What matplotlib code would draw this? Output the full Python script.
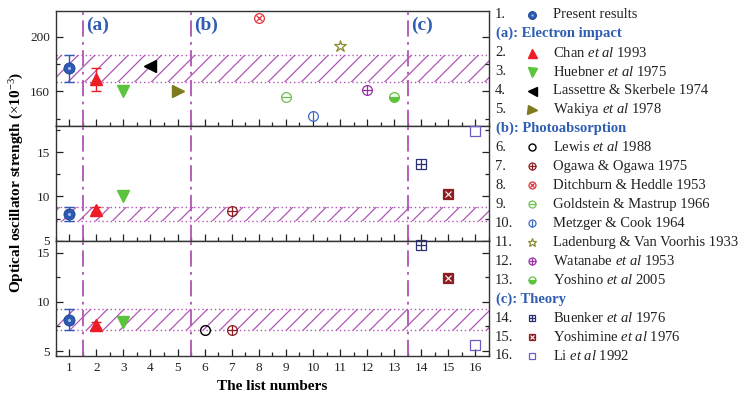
import numpy as np
import matplotlib
matplotlib.use("Agg")
import matplotlib.pyplot as plt
from matplotlib.ticker import MultipleLocator
from matplotlib.lines import Line2D

plt.rcParams["font.family"] = ["Liberation Serif", "DejaVu Serif"]
plt.rcParams["mathtext.fontset"] = "custom"
plt.rcParams["mathtext.rm"] = "Liberation Serif"
plt.rcParams["mathtext.it"] = "Liberation Serif:italic"
plt.rcParams["mathtext.bf"] = "Liberation Serif:bold"
plt.rcParams["hatch.linewidth"] = 0.9

nan = np.nan
list_numbers = np.arange(1, 17)

# oscillator strengths (x10^-3) for the three transitions, one panel each
top_vals = [177, 169, 160, 178.5, 160, nan, nan, 214, 156, 142, 193, 161, 156, nan, nan, nan]
top_errs = [10, 8.5, 0, 0, 0, 0, 0, 0, 0, 0, 0, 0, 0, 0, 0, 0]
mid_vals = [8.0, 8.5, 10.1, nan, nan, nan, 8.3, nan, nan, nan, nan, nan, nan, 13.6, 10.3, 17.4]
mid_errs = [0.8, 0.3, 0, 0, 0, 0, 0, 0, 0, 0, 0, 0, 0, 0, 0, 0]
bot_vals = [8.2, 7.6, 7.9, nan, nan, 7.1, 7.1, nan, nan, nan, nan, nan, nan, 15.8, 12.4, 5.6]
bot_errs = [1.1, 0.3, 0, 0, 0, 0, 0, 0, 0, 0, 0, 0, 0, 0, 0, 0]

panel_ylims = [(135, 219), (5, 18), (4.5, 16.2)]
panel_major = [40, 5, 5]
panel_minor = [20, 2.5, 2.5]

group_bounds = [1.5, 5.5, 13.5]
group_tags = ["(a)", "(b)", "(c)"]

sources = [
    "Present results",
    r"Chan $\it{et\ al}$ 1993",
    r"Huebner $\it{et\ al}$ 1975",
    "Lassettre & Skerbele 1974",
    r"Wakiya $\it{et\ al}$ 1978",
    r"Lewis $\it{et\ al}$ 1988",
    "Ogawa & Ogawa 1975",
    "Ditchburn & Heddle 1953",
    "Goldstein & Mastrup 1966",
    "Metzger & Cook 1964",
    "Ladenburg & Van Voorhis 1933",
    r"Watanabe $\it{et\ al}$ 1953",
    r"Yoshino $\it{et\ al}$ 2005",
    r"Buenker $\it{et\ al}$ 1976",
    r"Yoshimine $\it{et\ al}$ 1976",
    r"Li $\it{et\ al}$ 1992",
]
sections = {2: "(a): Electron impact", 6: "(b): Photoabsorption", 14: "(c): Theory"}

BLUE = "#2C5AB4"
RED = "#EE1C25"
GREEN = "#5CC43C"
OLIVE = "#7E7A1E"
DRED = "#8E1D22"
PURPLE = "#B055B5"
HEAD = "#2F5DB3"

# marker recipe per source: list of layers drawn on top of each other
def layers(n):
    return {
        1: [dict(marker="o", ms=8, mfc=BLUE, mec="#1E448C", mew=0.6),
            dict(marker="o", ms=2.2, mfc="#A9C1EE", mec="none")],
        2: [dict(marker="^", ms=9, mfc=RED, mec=RED)],
        3: [dict(marker="v", ms=9, mfc=GREEN, mec=GREEN)],
        4: [dict(marker="<", ms=9, mfc="black", mec="black")],
        5: [dict(marker=">", ms=9, mfc=OLIVE, mec=OLIVE)],
        6: [dict(marker="o", ms=7, mfc="none", mec="black", mew=1.0)],
        7: [dict(marker="o", ms=7, mfc="none", mec=DRED, mew=0.9),
            dict(marker="+", ms=7, mec=DRED, mew=0.9)],
        8: [dict(marker="o", ms=7, mfc="none", mec="#E5323B", mew=0.9),
            dict(marker="x", ms=4.8, mec="#E5323B", mew=0.9)],
        9: [dict(marker="o", ms=7, mfc="none", mec="#6CC04E", mew=0.9),
            dict(marker="_", ms=7, mec="#6CC04E", mew=0.9)],
        10: [dict(marker="o", ms=7, mfc="none", mec="#3C6CC4", mew=0.9),
             dict(marker="|", ms=7, mec="#3C6CC4", mew=0.9)],
        11: [dict(marker="*", ms=9, mfc="none", mec="#8C8A2E", mew=0.9)],
        12: [dict(marker="o", ms=7, mfc="none", mec="#9A2FA6", mew=0.9),
             dict(marker="+", ms=7, mec="#9A2FA6", mew=0.9)],
        13: [dict(marker="o", ms=7, mfc=GREEN, mfcalt="white", fillstyle="bottom",
                  mec=GREEN, mew=0.9)],
        14: [dict(marker="s", ms=6.5, mfc="none", mec="#2B2F73", mew=0.9),
             dict(marker="+", ms=6.5, mec="#2B2F73", mew=0.9)],
        15: [dict(marker="s", ms=6.5, mfc=DRED, mec=DRED, mew=0.9),
             dict(marker="x", ms=4.5, mec="white", mew=0.8)],
        16: [dict(marker="s", ms=6.5, mfc="none", mec="#6A5CC8", mew=0.9)],
    }[n]

err_colors = {1: BLUE, 2: RED}

fig = plt.figure(figsize=(7.45, 3.96), dpi=100)
W, H = 745.0, 396.0
left, right = 55.7 / W, 489.0 / W
edges_px = [11, 125.5, 240.7, 356]

all_vals = [top_vals, mid_vals, bot_vals]
all_errs = [top_errs, mid_errs, bot_errs]
axes = []
for i in range(3):
    y0 = 1 - edges_px[i + 1] / H
    y1 = 1 - edges_px[i] / H
    ax = fig.add_axes([left, y0, right - left, y1 - y0])
    axes.append(ax)
    vals = np.array(all_vals[i], dtype=float)
    errs = np.array(all_errs[i], dtype=float)

    # shaded band: present result +/- its uncertainty
    lo, hi = vals[0] - errs[0], vals[0] + errs[0]
    ax.fill_between([0.5, 16.5], lo, hi, facecolor="none", edgecolor=PURPLE,
                    hatch="//", linewidth=0, zorder=1)
    for yb in (lo, hi):
        ax.axhline(yb, color=PURPLE, lw=1.0, ls=(0, (1, 2)), zorder=1)

    for xb in group_bounds:
        ax.axvline(xb, color=PURPLE, lw=1.3, ls=(0, (9, 3, 1.5, 3)), zorder=2)

    for n, v, e in zip(list_numbers, vals, errs):
        if np.isnan(v):
            continue
        if e > 0:
            c = err_colors.get(n, "black")
            ax.errorbar([n], [v], yerr=[e], fmt="none", ecolor=c, elinewidth=1.0,
                        capsize=3.5, capthick=1.0, zorder=3)
        for lay in layers(n):
            ax.plot([n], [v], ls="none", zorder=4, clip_on=False, **lay)

    ax.set_xlim(0.5, 16.5)
    ax.set_ylim(*panel_ylims[i])
    ax.xaxis.set_major_locator(MultipleLocator(1))
    ax.xaxis.set_minor_locator(MultipleLocator(0.5))
    ax.yaxis.set_major_locator(MultipleLocator(panel_major[i]))
    ax.yaxis.set_minor_locator(MultipleLocator(panel_minor[i]))
    ax.tick_params(which="both", direction="in", top=False, right=True,
                   labelsize=9.5, colors="#222222", width=0.9)
    ax.tick_params(which="major", length=5, pad=4)
    ax.tick_params(which="minor", length=3)
    if i < 2:
        ax.tick_params(labelbottom=False)
    for s in ax.spines.values():
        s.set_linewidth(1.0)
        s.set_color("#333333")

for xb, tag in zip(group_bounds, group_tags):
    axes[0].text(xb + 0.12, 208.5, tag, color=HEAD, fontsize=14,
                 fontweight="bold", ha="left", va="center")

axes[2].set_xlabel("The list numbers", fontsize=11, fontweight="bold", labelpad=5)
fig.text(0.022, 0.54, r"Optical oscillator strength ($\times$10$^{-3}$)",
         rotation=90, fontsize=11, fontweight="bold", ha="center", va="center")

# key listing each source, grouped by measurement type
key = fig.add_axes([0, 0, 1, 1], facecolor="none")
key.set_axis_off()
key.set_xlim(0, W)
key.set_ylim(H, 0)
row = 0
row_h = 18.96
for n, name in zip(list_numbers, sources):
    if n in sections:
        key.text(495.5, 14.7 + row_h * row, sections[n], color=HEAD, fontsize=10.5,
                 fontweight="bold", ha="left", va="center")
        row += 1
    y = 14.7 + row_h * row
    key.text(495, y, f"{n}.", fontsize=10.5, ha="left", va="center", color="#222222")
    key.text(553, y, name, fontsize=10.5, ha="left", va="center", color="#222222")
    for lay in layers(n):
        lay = dict(lay)
        lay["ms"] = lay["ms"] * 0.72
        key.plot([532], [y], ls="none", **lay)
    row += 1

fig.savefig("out.png", dpi=100)
